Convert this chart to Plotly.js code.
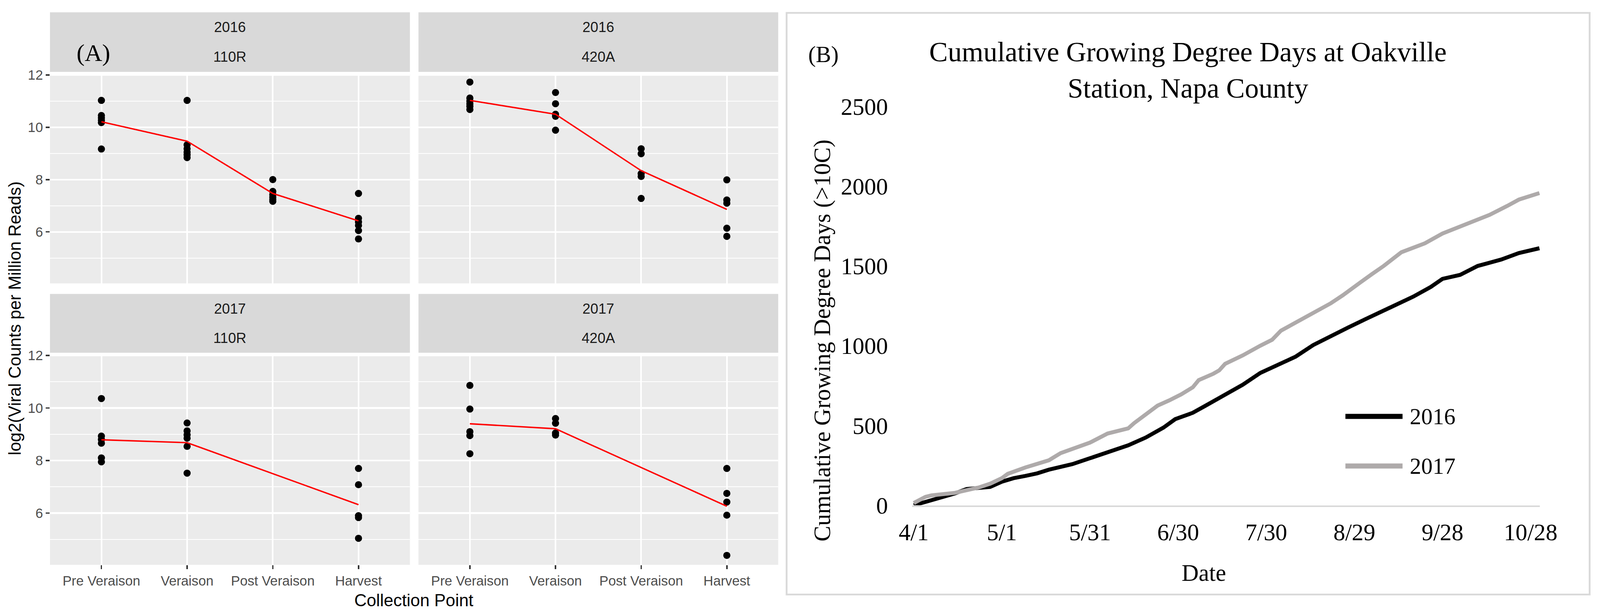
<!DOCTYPE html>
<html>
<head>
<meta charset="utf-8">
<script src="https://cdn.plot.ly/plotly-3.0.1.min.js"></script>
<style>
  html, body { margin: 0; padding: 0; background: #ffffff; overflow: hidden; }
  #chart { position: absolute; left: 0; top: 0; }
</style>
</head>
<body>
<div id="chart"></div>
<script>
// ---------------- DATA ----------------
// Panel (A): collection points
const stages = ['Pre Veraison', 'Veraison', 'Post Veraison', 'Harvest'];

// log2(viral counts per million reads), one inner list per collection point
const pts_2016_110R = [
  [11.03, 10.45, 10.36, 10.27, 10.18, 9.17],
  [11.03, 9.33, 9.18, 9.05, 8.95, 8.84],
  [8.00, 7.55, 7.42, 7.33, 7.25, 7.17],
  [7.47, 6.52, 6.38, 6.25, 6.05, 5.73]
];
const pts_2016_420A = [
  [11.73, 11.12, 11.00, 10.90, 10.80, 10.68],
  [11.33, 10.90, 10.50, 10.42, 9.89],
  [9.18, 8.99, 8.23, 8.12, 7.28],
  [7.99, 7.22, 7.10, 6.14, 5.83]
];
const pts_2017_110R = [
  [10.36, 8.93, 8.80, 8.66, 8.10, 7.95],
  [9.43, 9.13, 8.98, 8.85, 8.54, 7.52],
  [],
  [7.70, 7.08, 5.90, 5.83, 5.04]
];
const pts_2017_420A = [
  [10.86, 9.96, 9.10, 8.95, 8.26],
  [9.60, 9.42, 9.05, 8.97],
  [],
  [7.70, 6.75, 6.42, 5.92, 4.39]
];
// mean lines (red)
const mean_2016_110R = [10.21, 9.47, 7.47, 6.42];
const mean_2016_420A = [11.03, 10.50, 8.34, 6.86];
const mean_2017_110R = [8.79, 8.68, null, 6.32];
const mean_2017_420A = [9.40, 9.21, null, 6.26];

const facetYears = ['2016', '2016', '2017', '2017'];
const facetRootstocks = ['110R', '420A', '110R', '420A'];

// Panel (B): cumulative growing degree days (>10C), days after 4/1
const seriesNames = ['2016', '2017'];
const days2016 = [0,6,14,18,26,30,34,38,42,46,50,54,60,66,73,79,85,89,95,99,106,112,118,124,130,136,142,148,154,160,170,176,180,186,192,200,206,213];
const gdd2016  = [0,29,74,102,115,148,170,184,200,223,241,258,295,331,376,425,487,540,580,621,691,756,830,883,932,1005,1062,1116,1169,1221,1308,1369,1420,1445,1501,1541,1582,1612];
const days2017 = [0,4,6,14,22,26,30,32,38,42,46,50,54,60,66,73,75,79,83,87,91,95,97,102,104,106,112,118,122,125,130,136,142,146,150,152,156,160,166,174,180,188,196,202,206,213];
const gdd2017  = [14,53,62,78,111,135,170,197,237,258,282,327,352,393,450,482,515,572,625,658,695,740,785,825,846,887,940,1001,1038,1095,1144,1205,1267,1316,1373,1397,1450,1501,1587,1643,1704,1765,1821,1877,1917,1958];
const dateTickDays = [0, 30, 60, 90, 120, 150, 180, 210];
const dateTickText = ['4/1', '5/1', '5/31', '6/30', '7/30', '8/29', '9/28', '10/28'];

// ---------------- LAYOUT HELPERS ----------------
// design units are the 4481 x 1577 reference; everything is scaled to the real viewport
const W = 4481, H = 1577;
const VW = document.documentElement.clientWidth || window.innerWidth || W;
const VH = document.documentElement.clientHeight || window.innerHeight || H;
const S = Math.min(VW / W, VH / H);
const z = v => v * S;
const fx = p => p / W;
const fy = p => 1 - p / H;
const fontA = 'Liberation Sans, Arial, Helvetica, sans-serif';
const fontB = 'Liberation Serif, Times New Roman, serif';

const chartDiv = document.getElementById('chart');
chartDiv.style.width = VW + 'px';
chartDiv.style.height = VH + 'px';

const colL = [140, 1148], colR = [1172, 2179.5];
const rowT = [190, 725.5], rowB = [908, 1446];
const stripT = [31.6, 184], stripB = [752.6, 903];

const panels = [
  {pts: pts_2016_110R, mean: mean_2016_110R, col: colL, row: rowT, strip: stripT, xa: 'x',  ya: 'y',  left: true,  bottom: false},
  {pts: pts_2016_420A, mean: mean_2016_420A, col: colR, row: rowT, strip: stripT, xa: 'x2', ya: 'y2', left: false, bottom: false},
  {pts: pts_2017_110R, mean: mean_2017_110R, col: colL, row: rowB, strip: stripB, xa: 'x3', ya: 'y3', left: true,  bottom: true},
  {pts: pts_2017_420A, mean: mean_2017_420A, col: colR, row: rowB, strip: stripB, xa: 'x4', ya: 'y4', left: false, bottom: true}
];

const traces = [];
const layout = {
  width: VW, height: VH,
  margin: {l: 0, r: 0, t: 0, b: 0, pad: 0},
  paper_bgcolor: '#ffffff',
  plot_bgcolor: 'rgba(0,0,0,0)',
  showlegend: false,
  shapes: [],
  annotations: []
};

panels.forEach((p, i) => {
  const x = [], y = [];
  p.pts.forEach((grp, gi) => grp.forEach(v => { x.push(stages[gi]); y.push(v); }));
  traces.push({
    type: 'scatter', mode: 'markers', x: x, y: y, xaxis: p.xa, yaxis: p.ya,
    marker: {color: '#000000', size: z(20)}, showlegend: false
  });
  traces.push({
    type: 'scatter', mode: 'lines', x: stages, y: p.mean, xaxis: p.xa, yaxis: p.ya,
    connectgaps: true, line: {color: '#FF0000', width: z(4)}, showlegend: false
  });

  const n = i === 0 ? '' : String(i + 1);
  layout['xaxis' + n] = {
    domain: [fx(p.col[0]), fx(p.col[1])], anchor: p.ya,
    type: 'category', categoryorder: 'array', categoryarray: stages,
    range: [-0.6, 3.6], fixedrange: true,
    showgrid: true, gridcolor: '#FFFFFF', gridwidth: z(4.5), zeroline: false, showline: false,
    ticks: p.bottom ? 'outside' : '', ticklen: z(11), tickwidth: z(4), tickcolor: '#333333',
    showticklabels: p.bottom,
    tickfont: {family: fontA, size: z(38), color: '#4D4D4D'}
  };
  layout['yaxis' + n] = {
    domain: [fy(p.row[1]), fy(p.row[0])], anchor: p.xa,
    range: [4.03, 12.03], fixedrange: true,
    tickmode: 'linear', tick0: 0, dtick: 2,
    showgrid: true, gridcolor: '#FFFFFF', gridwidth: z(4.5),
    minor: {tick0: 0, dtick: 1, showgrid: true, gridcolor: '#FFFFFF', gridwidth: z(2.2), ticks: ''},
    zeroline: false, showline: false,
    ticks: p.left ? 'outside' : '', ticklen: z(11), tickwidth: z(4), tickcolor: '#333333',
    showticklabels: p.left, ticklabelstandoff: z(6),
    tickfont: {family: fontA, size: z(38), color: '#4D4D4D'}
  };

  // panel background
  layout.shapes.push({
    type: 'rect', xref: p.xa + ' domain', yref: p.ya + ' domain',
    x0: 0, x1: 1, y0: 0, y1: 1, fillcolor: '#EBEBEB', line: {width: 0}, layer: 'below'
  });
  // strip background
  layout.shapes.push({
    type: 'rect', xref: 'paper', yref: 'paper',
    x0: fx(p.col[0]), x1: fx(p.col[1]), y0: fy(p.strip[1]), y1: fy(p.strip[0]),
    fillcolor: '#D9D9D9', line: {width: 0}, layer: 'below'
  });
  const cx = fx((p.col[0] + p.col[1]) / 2);
  const mid = (p.strip[0] + p.strip[1]) / 2;
  layout.annotations.push({
    xref: 'paper', yref: 'paper', x: cx, y: fy((p.strip[0] + mid) / 2),
    text: facetYears[i], showarrow: false, xanchor: 'center', yanchor: 'middle',
    font: {family: fontA, size: z(40), color: '#1A1A1A'}
  });
  layout.annotations.push({
    xref: 'paper', yref: 'paper', x: cx, y: fy((mid + p.strip[1]) / 2),
    text: facetRootstocks[i], showarrow: false, xanchor: 'center', yanchor: 'middle',
    font: {family: fontA, size: z(40), color: '#1A1A1A'}
  });
});

// Panel A labels
layout.annotations.push(
  {xref: 'paper', yref: 'paper', x: fx(262), y: fy(136), text: '(A)', showarrow: false,
   xanchor: 'center', yanchor: 'middle', font: {family: fontB, size: z(68), color: '#000000'}},
  {xref: 'paper', yref: 'paper', x: fx(40), y: fy(815), text: 'log2(Viral Counts per Million Reads)',
   textangle: -90, showarrow: false, xanchor: 'center', yanchor: 'middle',
   font: {family: fontA, size: z(48), color: '#000000'}},
  {xref: 'paper', yref: 'paper', x: fx(1159), y: fy(1536), text: 'Collection Point', showarrow: false,
   xanchor: 'center', yanchor: 'middle', font: {family: fontA, size: z(48), color: '#000000'}}
);

// ---------------- PANEL B ----------------
const lineColors = ['#000000', '#AEAAAA'];
traces.push({
  type: 'scatter', mode: 'lines', name: seriesNames[0], x: days2016, y: gdd2016,
  xaxis: 'x5', yaxis: 'y5', line: {color: lineColors[0], width: z(11)}, showlegend: false
});
traces.push({
  type: 'scatter', mode: 'lines', name: seriesNames[1], x: days2017, y: gdd2017,
  xaxis: 'x5', yaxis: 'y5', line: {color: lineColors[1], width: z(11)}, showlegend: false
});

layout.xaxis5 = {
  domain: [fx(2555), fx(4313)], anchor: 'y5', range: [-0.5, 213.2], fixedrange: true,
  tickmode: 'array', tickvals: dateTickDays, ticktext: dateTickText,
  showgrid: false, zeroline: false, showline: true, linecolor: '#D9D9D9', linewidth: z(5),
  ticks: 'outside', ticklen: z(14), tickcolor: 'rgba(0,0,0,0)',
  tickfont: {family: fontB, size: z(66), color: '#000000'}
};
layout.yaxis5 = {
  domain: [fy(1293.5), fy(273)], anchor: 'x5', range: [0, 2500], fixedrange: true,
  tickmode: 'linear', tick0: 0, dtick: 500,
  showgrid: false, zeroline: false, showline: false,
  ticks: 'outside', ticklen: z(54), tickcolor: 'rgba(0,0,0,0)',
  tickfont: {family: fontB, size: z(66), color: '#000000'}
};

layout.title = {
  text: 'Cumulative Growing Degree Days at Oakville<br>Station, Napa County',
  x: fx(3327), xanchor: 'center', xref: 'paper',
  y: fy(157), yanchor: 'top', yref: 'container',
  font: {family: fontB, size: z(78), color: '#000000'}
};

// outer border of panel B
layout.shapes.push({
  type: 'rect', xref: 'paper', yref: 'paper',
  x0: fx(2203), x1: fx(4452), y0: fy(1522), y1: fy(33),
  line: {color: '#D9D9D9', width: z(5)}, fillcolor: 'rgba(0,0,0,0)'
});
// legend (drawn to match the long sample lines of the original)
const legendRows = [1066, 1193];
seriesNames.forEach((nm, i) => {
  layout.shapes.push({
    type: 'line', xref: 'paper', yref: 'paper',
    x0: fx(3768), x1: fx(3928), y0: fy(legendRows[i]), y1: fy(legendRows[i]),
    line: {color: lineColors[i], width: z(14)}
  });
  layout.annotations.push({
    xref: 'paper', yref: 'paper', x: fx(3946), y: fy(legendRows[i]), text: nm,
    showarrow: false, xanchor: 'left', yanchor: 'middle',
    font: {family: fontB, size: z(64), color: '#000000'}
  });
});

layout.annotations.push(
  {xref: 'paper', yref: 'paper', x: fx(2306), y: fy(139), text: '(B)', showarrow: false,
   xanchor: 'center', yanchor: 'middle', font: {family: fontB, size: z(64), color: '#000000'}},
  {xref: 'paper', yref: 'paper', x: fx(2303), y: fy(872), text: 'Cumulative Growing Degree Days (>10C)',
   textangle: -90, showarrow: false, xanchor: 'center', yanchor: 'middle',
   font: {family: fontB, size: z(66), color: '#000000'}},
  {xref: 'paper', yref: 'paper', x: fx(3372), y: fy(1466), text: 'Date', showarrow: false,
   xanchor: 'center', yanchor: 'middle', font: {family: fontB, size: z(66), color: '#000000'}}
);

Plotly.newPlot('chart', traces, layout, {staticPlot: true, displayModeBar: false});
</script>
</body>
</html>
